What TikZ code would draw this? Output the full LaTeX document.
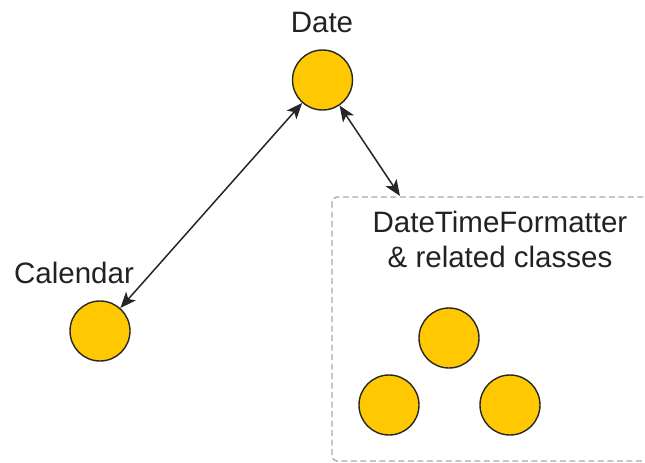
\documentclass[tikz,border=0pt]{standalone}
\usepackage{fontspec}
\setmainfont{Liberation Sans}
\usetikzlibrary{arrows.meta}
\definecolor{gold}{RGB}{255,200,0}
\definecolor{boxcol}{RGB}{180,168,150}
\definecolor{txt}{RGB}{34,34,34}
\tikzset{
  ball/.style={circle, draw=black!85, line width=1.4pt, fill=gold, minimum size=60pt, inner sep=0pt},
  lbl/.style={text=txt, font=\fontsize{29.5}{34}\selectfont, align=center, inner sep=0pt},
  link/.style={line width=1.5pt, draw=black!85, {Stealth[length=16pt,width=13pt,inset=4pt]}-{Stealth[length=16pt,width=13pt,inset=4pt]}},
  group/.style={draw=boxcol, line width=1.4pt, dash pattern=on 6pt off 3.5pt, rounded corners=5pt}
}
\begin{document}
\begin{tikzpicture}[x=1pt,y=-1pt]
\useasboundingbox (0,0) rectangle (645,463);
\begin{scope}
\clip (0,0) rectangle (645,463);
\draw[group] (332,197) rectangle (700,461);
\end{scope}
\node[lbl] (datelbl) at (322,22) {Date};
\node[ball] (date) at (322.5,80) {};
\node[lbl] (callbl) at (74,273) {Calendar};
\node[ball] (cal) at (100,331) {};
\node[lbl] (grplbl) at (500,239) {DateTimeFormatter\\[1pt]\& related classes};
\node[ball] (c1) at (449,338) {};
\node[ball] (c2) at (389,405) {};
\node[ball] (c3) at (510,405) {};
\coordinate (boxtop) at (400,196);
\draw[link] (date) -- (cal);
\draw[link] (date) -- (boxtop);
\end{tikzpicture}
\end{document}
